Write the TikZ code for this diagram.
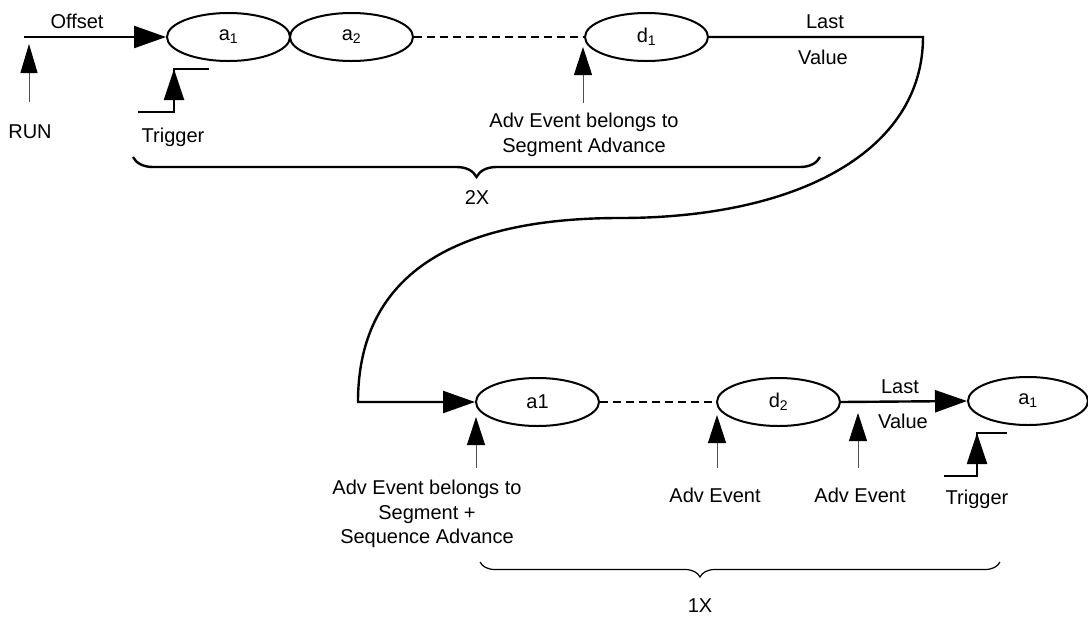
\documentclass[tikz,border=0pt]{standalone}
\usepackage{fontspec}
\setmainfont{Liberation Sans}
\usetikzlibrary{shapes.geometric, arrows.meta, positioning, decorations.pathreplacing}
\definecolor{stemgray}{RGB}{80, 80, 80}

\begin{document}
\begin{tikzpicture}[x=1pt, y=-1pt,
    every node/.style={font=\fontsize{20}{24.5}\selectfont, inner sep=0pt},
    seg/.style={draw, ellipse, line width=2pt, minimum width=123pt, minimum height=48pt},
    flow/.style={line width=2.4pt, -{Triangle[length=32pt, width=22pt]}},
    evt/.style={stemgray, line width=1pt, -{Triangle[length=28pt, width=18pt, color=black]}},
    trig/.style={line width=2.4pt},
    gap/.style={line width=2pt, dash pattern=on 8pt off 5pt}]
    \useasboundingbox (0,0) rectangle (1088,619);

    % first pass
    \node[seg] (a1) at (228.5,37) {a\textsubscript{1}};
    \node[seg] (a2) at (351.5,37) {a\textsubscript{2}};
    \node[seg] (d1) at (646.5,37) {d\textsubscript{1}};

    \coordinate (start) at (24,37);
    \draw[flow] (start) -- (a1.west);
    \node[anchor=base] (offset) at (77,28) {Offset};
    \draw[gap] (a2.east) -- (d1.west);

    \coordinate (runfoot) at (29,102);
    \coordinate (runtip) at (29,44);
    \draw[evt, -{Triangle[length=29pt, width=17pt, color=black]}] (runfoot) -- (runtip);
    \node[anchor=base] (run) at (30,138) {RUN};

    \coordinate (trg1lo) at (138,112);
    \coordinate (trg1) at (174,69);
    \draw[trig] (trg1lo) -| (trg1) -- ++(35,0);
    \draw[trig, -{Triangle[length=31pt, width=20pt]}] (trg1 |- trg1lo) -- (trg1);
    \node[anchor=base] (trig1) at (173,142) {Trigger};

    \coordinate (ev1foot) at (583,103);
    \coordinate (ev1tip) at (583,47);
    \draw[evt] (ev1foot) -- (ev1tip);
    \node[anchor=north, align=center] (ev1) at (584,113) {Adv Event belongs to\\Segment Advance};

    \node[anchor=base] (last1) at (825,28) {Last};
    \node[anchor=base] (val1) at (823,64) {Value};

    \draw[line width=2.4pt, decorate, decoration={brace, amplitude=20pt}] (820,157) -- (133,157);
    \node[anchor=base] (twice) at (477,204) {2X};

    % second pass
    \node[seg] (b1) at (537.5,402) {a1};
    \node[seg] (d2) at (778.5,402) {d\textsubscript{2}};
    \node[seg, minimum width=120pt] (c1) at (1028,401) {a\textsubscript{1}};

    \coordinate (turn) at (923,37);
    \coordinate (mid) at (620,218);
    \coordinate (back) at (358,402);
    \draw[flow] (d1.east) -- (turn) .. controls (923,150) and (800,218) .. (mid)
        .. controls (420,218) and (358,300) .. (back) -- (b1.west);
    \draw[gap] (b1.east) -- (d2.west);
    \draw[flow] (d2.east) -- (c1.west);
    \node[anchor=base] (last2) at (900,393) {Last};
    \node[anchor=base] (val2) at (903,428) {Value};

    \coordinate (ev2foot) at (476,468);
    \coordinate (ev2tip) at (476,417);
    \draw[evt] (ev2foot) -- (ev2tip);
    \node[anchor=north, align=center] (ev2) at (427,480) {Adv Event belongs to\\Segment +\\Sequence Advance};

    \coordinate (ev3foot) at (717,468);
    \coordinate (ev3tip) at (717,415);
    \draw[evt] (ev3foot) -- (ev3tip);
    \node[anchor=base] (ev3) at (715,502) {Adv Event};

    \coordinate (ev4foot) at (858,468);
    \coordinate (ev4tip) at (858,413);
    \draw[evt] (ev4foot) -- (ev4tip);
    \node[anchor=base] (ev4) at (860,502) {Adv Event};

    \coordinate (trg2lo) at (944,476);
    \coordinate (trg2) at (977,433);
    \draw[trig] (trg2lo) -| (trg2) -- ++(30,0);
    \draw[trig, -{Triangle[length=31pt, width=20pt]}] (trg2 |- trg2lo) -- (trg2);
    \node[anchor=base] (trig2) at (977,504) {Trigger};

    \draw[line width=1.2pt, decorate, decoration={brace, amplitude=15pt, aspect=0.577}] (1000,562) -- (480,562);
    \node[anchor=base] (once) at (700,612) {1X};
\end{tikzpicture}
\end{document}
